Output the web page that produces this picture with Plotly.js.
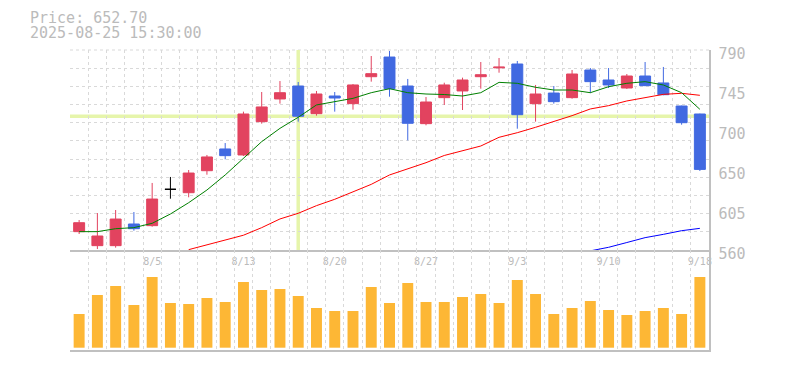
<!DOCTYPE html>
<html>
<head>
<meta charset="utf-8">
<script src="https://cdn.plot.ly/plotly-3.0.1.min.js"></script>
<style>html,body{margin:0;padding:0;background:#fff;}#chart{width:785px;height:370px;}</style>
</head>
<body>
<div id="chart"></div>
<script>
const dates = ['7/30','7/31','8/1','8/4','8/5','8/6','8/7','8/8','8/12','8/13','8/14','8/15','8/18','8/19','8/20','8/21','8/22','8/25','8/26','8/27','8/28','8/29','9/1','9/2','9/3','9/4','9/5','9/8','9/9','9/10','9/11','9/12','9/16','9/17','9/18'];
const openP  = [581.1,565.0,565.0,589.9,588.0,629.8,625.9,651.2,676.2,669.3,707.6,733.7,748.6,716.8,737.1,728.3,759.3,781.9,748.6,705.3,735.2,742.9,759.3,769.5,773.9,728.3,740.5,735.2,767.0,755.5,746.3,760.1,752.1,725.6,716.4];
const highP  = [594.5,602.5,606.0,603.7,637.1,644.0,652.0,669.3,683.0,719.1,741.7,754.3,753.2,742.9,741.7,750.9,783.1,788.9,756.7,735.9,752.4,758.2,776.2,780.8,777.4,749.8,748.6,767.0,769.3,769.3,762.4,776.2,770.5,726.0,716.8];
const lowP   = [578.4,561.1,562.7,582.2,586.8,619.0,620.6,646.6,664.3,668.1,705.3,728.3,707.6,714.5,719.1,721.4,753.6,736.3,686.1,703.4,726.8,721.0,745.5,763.9,699.5,707.6,728.3,734.0,740.5,746.3,745.2,748.5,738.0,704.1,650.9];
const closeP = [591.4,576.1,595.6,584.5,618.6,629.8,648.5,667.0,668.5,716.4,724.5,740.9,713.8,739.4,734.8,749.8,762.8,745.5,705.7,730.2,749.8,755.5,761.6,770.3,715.6,739.4,730.6,762.4,753.6,749.8,760.1,749.0,738.6,706.4,652.7];
const volume = [33.7,52.7,61.7,42.7,70.7,44.7,43.7,49.7,45.7,65.7,57.7,58.7,51.7,39.7,36.7,36.7,60.7,44.7,64.7,45.7,45.7,50.7,53.7,44.7,67.7,53.7,33.7,39.7,46.7,37.7,32.7,36.7,39.7,33.7,70.7];
const maShort = [581.1,581.1,584.5,585.7,590.7,601.4,614.4,629.0,646.3,665.4,684.6,699.9,712.6,726.8,730.6,734.4,740.9,745.5,740.9,739.4,738.8,737.1,740.9,752.8,751.7,747.1,744.0,744.0,740.9,747.8,751.7,753.6,749.8,740.9,721.8];
const maMid = [null,null,null,null,null,null,560.4,566.0,571.0,577.0,585.7,595.7,602.2,611.0,618.3,627.1,635.5,646.3,653.2,660.4,668.7,673.9,679.6,689.6,694.9,701.1,707.6,714.5,722.2,726.0,731.4,735.2,739.0,740.2,737.9];
const maLong = [null,null,null,null,null,null,null,null,null,null,null,null,null,null,null,null,null,null,null,null,null,null,null,null,null,null,null,null,559.0,563.1,568.6,574.2,578.0,582.2,584.9];
const dateTickIdx = [4,9,14,19,24,29,34];
const priceTickText = ['790','745','700','650','605','560'];
const priceTickVals = [790,744,698,652,606,560];
const headerPrice = 'Price: 652.70';
const headerTime = '2025-08-25 15:30:00';
const crossIdx = 12;
const dojiIdx = 5;

const idx = dates.map((d,i)=>i);
const main = idx.filter(i=>i!==dojiIdx);
const pick = (arr, ids) => ids.map(i=>arr[i]);

const RED='#e2435f', BLUE='#4169e1', GRID='#d9d9d9', AX='#c0c0c0', TXT='#bbbbbb', VOL='#fdb735';
const yMin=560, yMax=790;

const traces = [
  {type:'bar', x:idx, y:volume, xaxis:'x2', yaxis:'y2', marker:{color:VOL}, hoverinfo:'none'},
  {type:'scatter', mode:'lines', x:idx, y:maLong, line:{color:'#0000ff', width:1}, xaxis:'x', yaxis:'y', hoverinfo:'none'},
  {type:'scatter', mode:'lines', x:idx, y:maMid, line:{color:'#ff0000', width:1}, xaxis:'x', yaxis:'y', hoverinfo:'none'},
  {type:'scatter', mode:'lines', x:idx, y:maShort, line:{color:'#008000', width:1}, xaxis:'x', yaxis:'y', hoverinfo:'none'},
  {type:'candlestick', x:main, open:pick(openP,main), high:pick(highP,main), low:pick(lowP,main), close:pick(closeP,main),
   increasing:{line:{color:RED,width:1}, fillcolor:RED}, decreasing:{line:{color:BLUE,width:1}, fillcolor:BLUE},
   whiskerwidth:0, xaxis:'x', yaxis:'y', hoverinfo:'none'},
  {type:'candlestick', x:[dojiIdx], open:[openP[dojiIdx]], high:[highP[dojiIdx]], low:[lowP[dojiIdx]], close:[closeP[dojiIdx]],
   increasing:{line:{color:'#000',width:1}, fillcolor:'#000'}, decreasing:{line:{color:'#000',width:1}, fillcolor:'#000'},
   whiskerwidth:0, xaxis:'x', yaxis:'y', hoverinfo:'none'}
];

const xr=[-0.5, dates.length-0.5];
const minorX = {tick0:-0.5, dtick:1, showgrid:true, gridcolor:GRID, griddash:'dot', gridwidth:1, ticks:''};
const layout = {
  width:785, height:370,
  margin:{l:70, r:75.5, t:50, b:20},
  paper_bgcolor:'#fff', plot_bgcolor:'#fff',
  showlegend:false, hovermode:false,
  boxgap:0.4, boxgroupgap:0, bargap:0.4,
  font:{family:'DejaVu Sans Mono', color:TXT},
  xaxis:{domain:[0,1], anchor:'y', range:xr, rangeslider:{visible:false},
    tickmode:'array', tickvals:dateTickIdx, ticktext:dateTickIdx.map(i=>dates[i]),
    showgrid:false, minor:minorX, showline:true, linecolor:AX, linewidth:1.5, ticks:'', zeroline:false,
    tickfont:{family:'DejaVu Sans Mono', size:10, color:TXT}, ticklabelstandoff:1},
  yaxis:{domain:[1/3,1], anchor:'x', range:[yMin,yMax], tickmode:'array', tickvals:priceTickVals, ticktext:priceTickText,
    showgrid:false, minor:{tick0:yMin, dtick:(yMax-yMin)/11, showgrid:true, gridcolor:GRID, griddash:'dot', gridwidth:1, ticks:''},
    side:'right', showline:true, linecolor:AX, linewidth:1.5, zeroline:false, ticks:'',
    ticklabelstandoff:5, ticklabelshift:4, tickfont:{family:'DejaVu Sans Mono', size:15, color:TXT}},
  xaxis2:{domain:[0,1], anchor:'y2', range:xr, showticklabels:false, showgrid:false, minor:minorX,
    showline:true, linecolor:AX, linewidth:1.5, ticks:'', zeroline:false},
  yaxis2:{domain:[0,1/3], anchor:'x2', range:[-2.3,97.7], showgrid:false, showticklabels:false, side:'right',
    showline:true, linecolor:AX, linewidth:1.5, zeroline:false, ticks:''},
  shapes:[
    {type:'line', layer:'below', xref:'x domain', yref:'y domain', x0:0, x1:1, y0:1, y1:1, line:{color:GRID, width:1, dash:'dot'}},
    {type:'line', layer:'below', xref:'x domain', yref:'y', x0:0, x1:1, y0:closeP[crossIdx], y1:closeP[crossIdx], line:{color:'#e6f5ab', width:3.5}},
    {type:'line', layer:'below', xref:'x', yref:'y domain', x0:crossIdx, x1:crossIdx, y0:0, y1:1, line:{color:'#e6f5ab', width:3.5}}
  ],
  annotations:[
    {xref:'paper', yref:'paper', x:(28-70)/639.5, y:(350-18)/300, xanchor:'left', yanchor:'middle', showarrow:false, text:headerPrice,
     font:{family:'DejaVu Sans Mono', size:15, color:TXT}},
    {xref:'paper', yref:'paper', x:(28-70)/639.5, y:(350-33)/300, xanchor:'left', yanchor:'middle', showarrow:false, text:headerTime,
     font:{family:'DejaVu Sans Mono', size:15, color:TXT}}
  ]
};
Plotly.newPlot('chart', traces, layout, {staticPlot:true, displayModeBar:false});
</script>
</body>
</html>
